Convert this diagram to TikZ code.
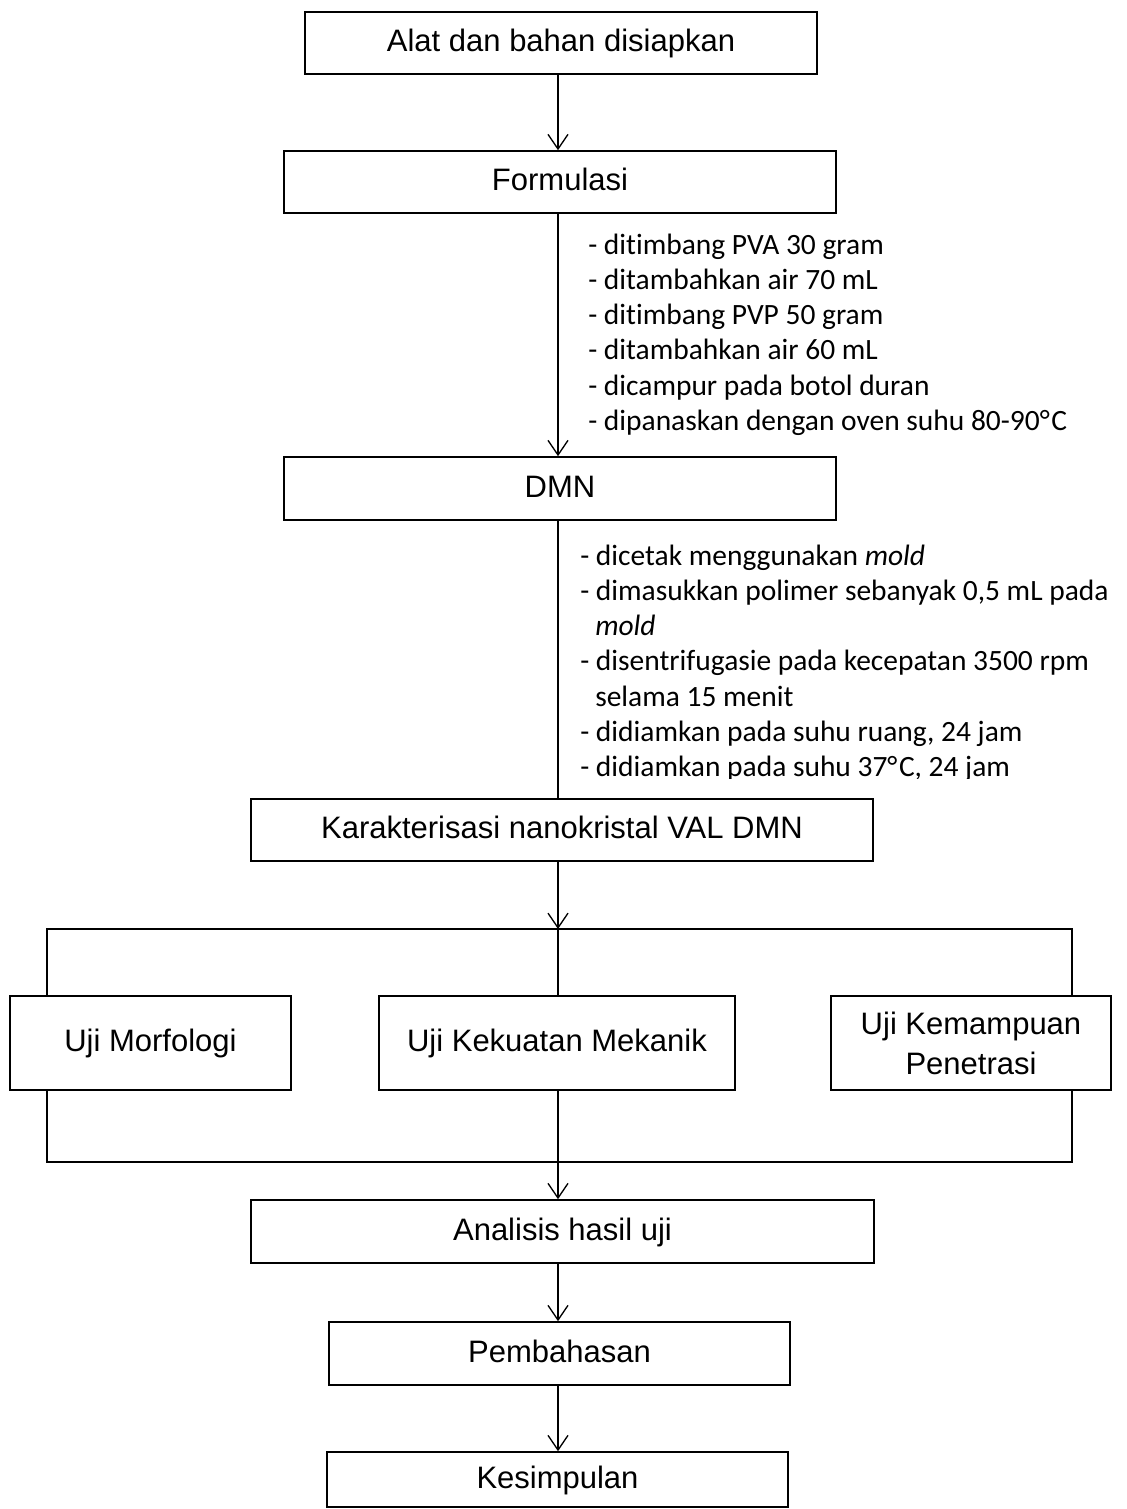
\documentclass[tikz,border=0pt]{standalone}
\usepackage{fontspec}
\setmainfont{Liberation Sans}
\newfontfamily\sidefam[Ligatures=NoCommon,RawFeature={-liga;-clig;-calt;-dlig}]{Carlito}
\usetikzlibrary{arrows.meta}
\newcommand\boxfont{\fontsize{23.25}{30}\selectfont}
\newcommand\sidefont{\sidefam\fontsize{22.1}{26.5}\selectfont}
\newcommand\degC{°\kern1.2pt C}
\tikzset{
  box/.style={draw=black, line width=1.2pt, inner sep=0pt, text height=17.4pt, text depth=4.6pt, font=\boxfont, align=center},
  twobox/.style={draw=black, line width=1.2pt, inner sep=0pt, font=\boxfont, align=center},
  ln/.style={line width=1pt},
  arr/.style={line width=1pt, -{Straight Barb[length=11pt, width=15pt, line width=1pt]}},
  side/.style={anchor=base west, inner sep=0pt, font=\sidefont},
}
\begin{document}
\begin{tikzpicture}[x=0.75pt, y=-0.75pt]
\useasboundingbox (0,0) rectangle (1127,1509);
\coordinate (spine) at (558,0);
\coordinate (xl) at (47,0);
\coordinate (xr) at (1072,0);

\node[box, minimum width=384pt, minimum height=46.5pt] (b1) at (561,43) {Alat dan bahan disiapkan};
\node[box, minimum width=414pt, minimum height=46.5pt] (f) at (560,182) {Formulasi};
\node[box, minimum width=414pt, minimum height=47.25pt] (d) at (560,488.5) {DMN};
\node[box, minimum width=466.5pt, minimum height=46.5pt] (kar) at (562,830) {Karakterisasi nanokristal VAL DMN};
\node[box, minimum width=210.75pt, minimum height=70.5pt] (m) at (150.5,1043) {Uji Morfologi};
\node[box, minimum width=267pt, minimum height=70.5pt] (k) at (557,1043) {Uji Kekuatan Mekanik};
\node[twobox, minimum width=210pt, minimum height=70.5pt] (p) at (971,1043) {Uji Kemampuan\\Penetrasi};
\node[box, minimum width=467.25pt, minimum height=47.25pt] (an) at (562.5,1231.5) {Analisis hasil uji};
\node[box, minimum width=345.75pt, minimum height=47.25pt] (pb) at (559.5,1353.5) {Pembahasan};
\node[box, minimum width=345.75pt, minimum height=41.25pt] (ks) at (557.5,1479.5) {Kesimpulan};

% side notes, block 1
\node[side] (t1) at (588,254) {- ditimbang PVA 30 gram};
\node[side] (t2) at (588,289.3) {- ditambahkan air 70 mL};
\node[side] (t3) at (588,324.6) {- ditimbang PVP 50 gram};
\node[side] (t4) at (588,359.9) {- ditambahkan air 60 mL};
\node[side] (t5) at (588,395.2) {- dicampur pada botol duran};
\node[side] (t6) at (588,430.5) {- dipanaskan dengan oven suhu 80-90\degC};

% side notes, block 2 (clipped at the bottom as in the original)
\begin{scope}
\clip (565,530) rectangle (1127,778);
\node[side] (u1) at (580,565) {- dicetak menggunakan \textit{mold}};
\node[side] (u2) at (580,600.3) {- dimasukkan polimer sebanyak 0,5 mL pada};
\node[side] (u3) at (595,635.6) {\textit{mold}};
\node[side] (u4) at (580,670.9) {- disentrifugasie pada kecepatan 3500 rpm};
\node[side] (u5) at (595,706.2) {selama 15 menit};
\node[side] (u6) at (580,741.5) {- didiamkan pada suhu ruang, 24 jam};
\node[side] (u7) at (580,776.8) {- didiamkan pada suhu 37\degC, 24 jam};
\end{scope}

% connectors
\draw[arr] (spine |- b1.south) -- (spine |- f.north);
\draw[arr] (spine |- f.south) -- (spine |- d.north);
\draw[ln] (spine |- d.south) -- (spine |- kar.north);
\coordinate (busT) at (558,929);
\coordinate (busB) at (558,1162);
\draw[arr] (spine |- kar.south) -- (busT);
\draw[ln] (xl |- m.north) |- (xr |- busT) -- (xr |- p.north);
\draw[ln] (busT) -- (spine |- k.north);
\draw[ln] (xl |- m.south) |- (xr |- busB) -- (xr |- p.south);
\draw[arr] (spine |- k.south) -- (spine |- an.north);
\draw[arr] (spine |- an.south) -- (spine |- pb.north);
\draw[arr] (spine |- pb.south) -- (spine |- ks.north);
\end{tikzpicture}
\end{document}
